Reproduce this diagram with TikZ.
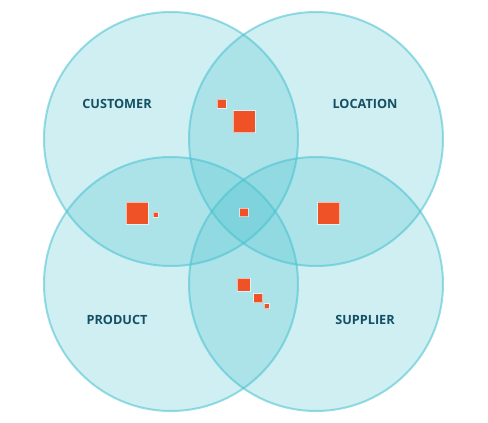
\documentclass[tikz,border=0pt]{standalone}
\usepackage{fontspec}
\setmainfont{Open Sans}
\definecolor{setcyan}{RGB}{70,192,206}
\definecolor{labelteal}{RGB}{20,80,100}
\definecolor{markred}{RGB}{240,82,40}
\tikzset{
  setcircle/.style={circle,minimum size=254pt,inner sep=0pt,fill=setcyan,fill opacity=0.26,draw=setcyan,draw opacity=0.55,line width=2pt},
  setlabel/.style={text=labelteal,font=\bfseries\fontsize{12.7}{14}\selectfont},
  mark/.style={fill=markred,draw=white,draw opacity=0.6,line width=0.8pt,inner sep=0pt,minimum size=#1},
}
\begin{document}
\begin{tikzpicture}[x=1pt,y=-1pt]
        \useasboundingbox (0,0) rectangle (488,423);
        \node (customer) at (171,139) [setcircle] {};
        \node (location) at (316,139) [setcircle] {};
        \node (product) at (171,284) [setcircle] {};
        \node (supplier) at (316,284) [setcircle] {};
        \node (tcustomer) at (117,104) [setlabel] {CUSTOMER};
        \node (tlocation) at (365,104) [setlabel] {LOCATION};
        \node (tproduct) at (117,320) [setlabel] {PRODUCT};
        \node (tsupplier) at (365,320) [setlabel] {SUPPLIER};
        \node (m1) at (221.5,103.5) [mark=9pt] {};
        \node (m2) at (244,121.5) [mark=22pt] {};
        \node (m3) at (137,213) [mark=22pt] {};
        \node (m4) at (155.5,214.5) [mark=5pt] {};
        \node (m5) at (244,212.5) [mark=8.5pt] {};
        \node (m6) at (328.5,213) [mark=22pt] {};
        \node (m7) at (243.5,284.5) [mark=13pt] {};
        \node (m8) at (258,298) [mark=9pt] {};
        \node (m9) at (266.5,306) [mark=5pt] {};
      \end{tikzpicture}
\end{document}
